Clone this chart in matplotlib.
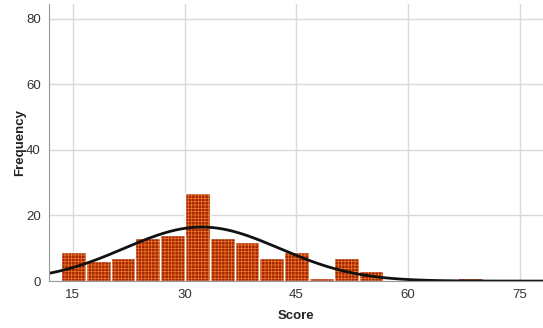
import numpy as np
import matplotlib
matplotlib.use("Agg")
import matplotlib.pyplot as plt

# Histogram of scores (bin edges start at 13.4, width 3.33)
bin_start = 13.4
bin_width = 3.33
counts = [9, 6, 7, 13, 14, 27, 13, 12, 7, 9, 1, 7, 3, 0, 0, 0, 1]

# Fitted normal curve
n_total = sum(counts)
curve_mean = 32.3
curve_sd = 10.4

x_ticks = [15, 30, 45, 60, 75]
y_ticks = [0, 20, 40, 60, 80]

plt.rcParams['font.family'] = ['Liberation Sans', 'DejaVu Sans']
plt.rcParams['hatch.linewidth'] = 0.55

fig = plt.figure(figsize=(5.43, 3.28), dpi=100)
ax = fig.add_axes([0.0902, 0.143, 0.9098, 0.845])

lefts = [bin_start + i * bin_width for i in range(len(counts))]
# patterned fill
ax.bar(lefts, counts, width=bin_width, align='edge', color='#a82400',
       hatch='+++++', edgecolor='#e5782a', linewidth=0, zorder=2)
# white outlines between bars
ax.bar(lefts, counts, width=bin_width, align='edge', fill=False,
       edgecolor='white', linewidth=1.0, zorder=3)

xs = np.linspace(10, 80, 400)
ys = n_total * bin_width / (curve_sd * np.sqrt(2 * np.pi)) * np.exp(-0.5 * ((xs - curve_mean) / curve_sd) ** 2)
ax.plot(xs, ys, color='#111111', linewidth=2.0, zorder=4)

ax.set_xlim(11.8, 78.1)
ax.set_ylim(0, 84.5)
ax.set_xticks(x_ticks)
ax.set_yticks(y_ticks)
ax.grid(True, color='#d9d9d9', linewidth=1.0, zorder=0)
ax.set_axisbelow(True)
ax.tick_params(length=0, labelsize=9.5, colors='#333333', pad=6)
for s in ['top', 'right']:
    ax.spines[s].set_visible(False)
ax.spines['left'].set_color('#999999')
ax.spines['bottom'].set_color('#999999')
ax.spines['left'].set_zorder(5)
ax.spines['bottom'].set_zorder(5)

ax.set_xlabel('Score', fontsize=9.5, fontweight='bold', color='#222222', labelpad=6)
ax.set_ylabel('Frequency', fontsize=9.5, fontweight='bold', color='#222222', labelpad=0)

fig.savefig('out.png', dpi=100)
